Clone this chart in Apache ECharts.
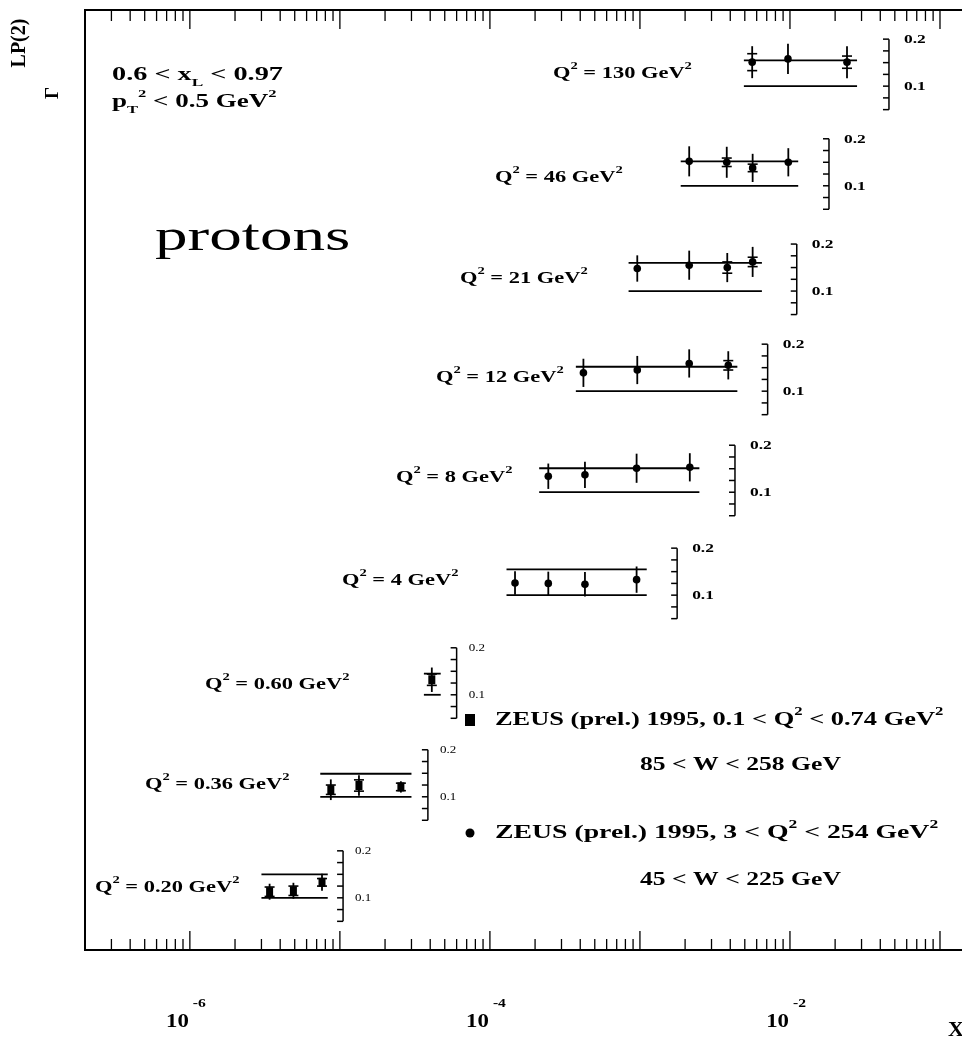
<!DOCTYPE html>
<html>
<head>
<meta charset="utf-8">
<script src="https://cdn.jsdelivr.net/npm/echarts@6/dist/echarts.min.js"></script>
<style>
html, body { margin: 0; padding: 0; background: #fff; overflow: hidden; }
#chart { width: 1040px; height: 1045px; }
</style>
</head>
<body>
<div id="chart"></div>
<script>
// ---- Γ^LP(2) for leading protons, one row per Q² bin (top to bottom) ----
const q2Bins = ['130', '46', '21', '12', '8', '4', '0.60', '0.36', '0.20'];

const xValues = [
  [5.6e-3, 9.7e-3, 2.4e-2],
  [2.13e-3, 3.79e-3, 5.64e-3, 9.75e-3],
  [9.6e-4, 2.13e-3, 3.82e-3, 5.64e-3],
  [4.2e-4, 9.6e-4, 2.13e-3, 3.88e-3],
  [2.45e-4, 4.3e-4, 9.5e-4, 2.15e-3],
  [1.47e-4, 2.45e-4, 4.3e-4, 9.5e-4],
  [4.1e-5],
  [8.7e-6, 1.34e-5, 2.55e-5],
  [3.4e-6, 4.9e-6, 7.6e-6]
];
const gammaValues = [
  [0.151, 0.158, 0.151],
  [0.152, 0.150, 0.138, 0.150],
  [0.148, 0.155, 0.150, 0.162],
  [0.139, 0.145, 0.159, 0.155],
  [0.134, 0.137, 0.151, 0.153],
  [0.126, 0.125, 0.123, 0.133],
  [0.132],
  [0.115, 0.124, 0.121],
  [0.113, 0.115, 0.133]
];
const totalErrors = [
  [0.034, 0.032, 0.034],
  [0.032, 0.033, 0.030, 0.030],
  [0.028, 0.031, 0.031, 0.032],
  [0.030, 0.030, 0.030, 0.030],
  [0.027, 0.028, 0.031, 0.030],
  [0.025, 0.025, 0.026, 0.028],
  [0.026],
  [0.022, 0.022, 0.012],
  [0.017, 0.017, 0.018]
];
const statErrors = [
  [0.018, 0, 0.013],
  [0, 0.009, 0.008, 0],
  [0, 0, 0.012, 0.010],
  [0, 0, 0, 0.010],
  [0, 0, 0, 0],
  [0, 0, 0, 0],
  [0.012],
  [0.010, 0.012, 0.008],
  [0.010, 0.010, 0.008]
];
// constant level per bin and its x range, plus the common reference level
const fitLevels = [0.155, 0.152, 0.160, 0.152, 0.151, 0.155, 0.145, 0.149, 0.150];
const fitFrom = [4.93e-3, 1.87e-3, 8.4e-4, 3.74e-4, 2.13e-4, 1.29e-4, 3.63e-5, 7.4e-6, 3.0e-6];
const fitTo = [2.8e-2, 1.135e-2, 6.5e-3, 4.46e-3, 2.49e-3, 1.11e-3, 4.7e-5, 3.0e-5, 8.3e-6];
const refLevel = 0.1;
// photoproduction-region bins (square markers) vs DIS bins (circles)
const lowQ2Sample = [false, false, false, false, false, false, true, true, true];

// per-bin Γ scale: ticks and labelled values
const scaleTicks = [0.05, 0.075, 0.1, 0.125, 0.15, 0.175, 0.2];
const scaleLabels = [0.1, 0.2];
// x axis decades with labels
const xLabelValues = [1e-6, 1e-4, 1e-2];
const xDecades = [-7, -6, -5, -4, -3, -2, -1];

// ---- layout: vertical shift of each bin and x position of its Γ scale ----
const panelShift = [1.738, 1.526, 1.302, 1.089, 0.874, 0.655, 0.443, 0.226, 0.011];
const scaleAt = [0.0457, 0.0182, 0.0111, 7.1e-3, 4.3e-3, 1.77e-3, 6.0e-5, 3.86e-5, 1.05e-5];
const q2LabelPos = [[553, 74], [495, 178], [460, 279], [436, 378], [396, 478], [342, 581], [205, 685], [145, 785], [95, 888]];

const SERIF = '"Liberation Serif", "DejaVu Serif", serif';

function toRich(s) {
  let out = '', last = 0, m;
  const re = /([\^_])\{([^}]*)\}/g;
  while ((m = re.exec(s))) {
    if (m.index > last) out += '{n|' + s.slice(last, m.index) + '}';
    out += '{' + (m[1] === '^' ? 'p' : 'b') + '|' + m[2] + '}';
    last = re.lastIndex;
  }
  if (last < s.length) out += '{n|' + s.slice(last) + '}';
  return out;
}
function richSet(fs, weight) {
  const small = Math.round(fs * 0.62);
  const base = { fontFamily: SERIF, fontWeight: weight, color: '#000' };
  return {
    n: Object.assign({}, base, { fontSize: fs, lineHeight: Math.round(fs * 1.5) }),
    p: Object.assign({}, base, { fontSize: small, lineHeight: small, verticalAlign: 'top' }),
    b: Object.assign({}, base, { fontSize: small, lineHeight: small, verticalAlign: 'bottom' })
  };
}
function label(x, y, s, fs, sx, opts) {
  opts = opts || {};
  return {
    type: 'text', x: x, y: y, scaleX: sx, silent: true,
    style: {
      text: toRich(s), rich: richSet(fs, opts.weight || 'bold'),
      align: opts.align || 'left', verticalAlign: 'middle', fill: '#000'
    }
  };
}
// hidden y axis that only carries a rotated title piece
function titleAxis(name, offset, gap, fs) {
  return {
    type: 'value', min: 0, max: 2, position: 'left', offset: offset,
    name: name, nameLocation: 'end', nameGap: gap, nameRotate: 90, nameMoveOverlap: false,
    nameTextStyle: { fontFamily: SERIF, fontWeight: 'bold', fontSize: fs, color: '#000', align: 'center', verticalAlign: 'middle' },
    axisLine: { show: false }, axisTick: { show: false }, axisLabel: { show: false }, splitLine: { show: false }
  };
}

// ---- series data built from the arrays above ----
const pointData = [];
xValues.forEach((xs, k) => xs.forEach((x, i) => {
  pointData.push([x, gammaValues[k][i], totalErrors[k][i], statErrors[k][i], k]);
}));
const levelData = fitLevels.map((lv, k) => [fitFrom[k], fitTo[k], lv, k]);
const scaleData = scaleAt.map((x, k) => [x, k]);
const tickData = [];
xDecades.forEach(d => {
  if (d > -7) tickData.push([Math.pow(10, d), 1]);
  for (let m = 2; m <= 9; m++) tickData.push([m * Math.pow(10, d), 0]);
});
const tickLabelData = xLabelValues.map(v => [v, 0]);

const BLACK = '#000';

const option = {
  animation: false,
  backgroundColor: '#fff',
  grid: { left: 85, top: 10, width: 930, height: 940, outerBoundsMode: 'none', containLabel: false,
    show: true, borderColor: BLACK, borderWidth: 2, backgroundColor: 'transparent' },
  xAxis: {
    type: 'log', logBase: 10, min: 2e-7, max: Math.pow(10, -0.5),
    axisLine: { show: false }, axisTick: { show: false }, axisLabel: { show: false }, splitLine: { show: false }
  },
  yAxis: [
    {
      type: 'value', min: 0, max: 2,
      axisLine: { show: false }, axisTick: { show: false }, axisLabel: { show: false }, splitLine: { show: false }
    },
    titleAxis('Γ', 32, -83, 19),
    titleAxis('LP(2)', 65, -33, 20)
  ],
  series: [
    {
      // decade and sub-decade ticks on the bottom and top frame
      type: 'custom', data: tickData, clip: false, silent: true,
      renderItem(params, api) {
        const cs = params.coordSys;
        const px = api.coord([api.value(0), 1])[0];
        const len = api.value(1) ? 19 : 11;
        const yb = cs.y + cs.height, yt = cs.y;
        return { type: 'group', children: [
          { type: 'line', shape: { x1: px, y1: yb, x2: px, y2: yb - len }, style: { stroke: BLACK, lineWidth: 1.3 } },
          { type: 'line', shape: { x1: px, y1: yt, x2: px, y2: yt + len }, style: { stroke: BLACK, lineWidth: 1.3 } }
        ] };
      }
    },
    {
      // 10^n labels under the frame
      type: 'custom', data: tickLabelData, clip: false, silent: true,
      renderItem(params, api) {
        const v = api.value(0);
        const px = api.coord([v, 1])[0];
        const exp = Math.round(Math.log10(v));
        return { type: 'group', children: [
          { type: 'text', x: px - 1, y: 1022, scaleX: 1.2,
            style: { text: '10', align: 'right', verticalAlign: 'middle', fontFamily: SERIF, fontWeight: 'bold', fontSize: 19, fill: BLACK } },
          { type: 'text', x: px + 3, y: 1004, scaleX: 1.2,
            style: { text: String(exp), align: 'left', verticalAlign: 'middle', fontFamily: SERIF, fontWeight: 'bold', fontSize: 13, fill: BLACK } }
        ] };
      }
    },
    {
      // constant level and reference line of each bin
      type: 'custom', data: levelData, clip: false, silent: true,
      encode: { x: [0, 1], y: 2 },
      renderItem(params, api) {
        const k = api.value(3), sh = panelShift[k];
        const a = api.coord([api.value(0), api.value(2) + sh]);
        const b = api.coord([api.value(1), api.value(2) + sh]);
        const c = api.coord([api.value(0), refLevel + sh]);
        const d = api.coord([api.value(1), refLevel + sh]);
        return { type: 'group', children: [
          { type: 'line', shape: { x1: a[0], y1: a[1], x2: b[0], y2: b[1] }, style: { stroke: BLACK, lineWidth: 1.8 } },
          { type: 'line', shape: { x1: c[0], y1: c[1], x2: d[0], y2: d[1] }, style: { stroke: BLACK, lineWidth: 1.8 } }
        ] };
      }
    },
    {
      // Γ scale drawn next to each bin
      type: 'custom', data: scaleData, clip: false, silent: true,
      renderItem(params, api) {
        const k = api.value(1), sh = panelShift[k];
        const x = api.value(0);
        const lo = api.coord([x, scaleTicks[0] + sh]);
        const hi = api.coord([x, scaleTicks[scaleTicks.length - 1] + sh]);
        const ch = [{ type: 'line', shape: { x1: lo[0], y1: lo[1], x2: hi[0], y2: hi[1] }, style: { stroke: BLACK, lineWidth: 1.5 } }];
        scaleTicks.forEach(t => {
          const p = api.coord([x, t + sh]);
          ch.push({ type: 'line', shape: { x1: p[0] - 6, y1: p[1], x2: p[0], y2: p[1] }, style: { stroke: BLACK, lineWidth: 1.5 } });
        });
        const small = lowQ2Sample[k];
        scaleLabels.forEach(t => {
          const p = api.coord([x, t + sh]);
          ch.push({ type: 'text', x: p[0] + (small ? 12 : 15), y: p[1] + 1, scaleX: small ? 1.3 : 1.45,
            style: { text: t.toFixed(1), align: 'left', verticalAlign: 'middle', fontFamily: SERIF,
              fontWeight: small ? 'normal' : 'bold', fontSize: small ? 10 : 12, fill: BLACK } });
        });
        return { type: 'group', children: ch };
      }
    },
    {
      // measurements with total error bars and statistical error ticks
      type: 'custom', data: pointData, clip: false, silent: true,
      encode: { x: 0, y: 1 },
      renderItem(params, api) {
        const x = api.value(0), g = api.value(1), e = api.value(2), s = api.value(3), k = api.value(4);
        const sh = panelShift[k];
        const c = api.coord([x, g + sh]);
        const t = api.coord([x, g + e + sh]);
        const b = api.coord([x, g - e + sh]);
        const ch = [{ type: 'line', shape: { x1: c[0], y1: t[1], x2: c[0], y2: b[1] }, style: { stroke: BLACK, lineWidth: 1.8 } }];
        if (s > 0) {
          [g + s, g - s].forEach(v => {
            const p = api.coord([x, v + sh]);
            ch.push({ type: 'line', shape: { x1: c[0] - 5, y1: p[1], x2: c[0] + 5, y2: p[1] }, style: { stroke: BLACK, lineWidth: 1.6 } });
          });
        }
        if (lowQ2Sample[k]) {
          ch.push({ type: 'rect', shape: { x: c[0] - 3.5, y: c[1] - 4.5, width: 7, height: 9 }, style: { fill: BLACK } });
        } else {
          ch.push({ type: 'circle', shape: { cx: c[0], cy: c[1], r: 3.8 }, style: { fill: BLACK } });
        }
        return { type: 'group', children: ch };
      }
    }
  ],
  graphic: [
    { type: 'text', x: 956, y: 1031, scaleX: 1.1, silent: true,
      style: { text: 'X', align: 'center', verticalAlign: 'middle', fontFamily: SERIF, fontWeight: 'bold', fontSize: 20, fill: BLACK } },
    // kinematic range
    label(112, 75, '0.6 < x_{L} < 0.97', 18, 1.57),
    label(112, 102, 'p_{T}^{2} < 0.5 GeV^{2}', 18, 1.5),
    { type: 'text', x: 155, y: 238, scaleX: 1.48, silent: true,
      style: { text: 'protons', align: 'left', verticalAlign: 'middle', fontFamily: SERIF, fontWeight: 'normal', fontSize: 44, fill: BLACK } },
    // legend
    { type: 'rect', shape: { x: 465, y: 714, width: 10, height: 12 }, style: { fill: BLACK }, silent: true },
    label(495, 720, 'ZEUS (prel.) 1995, 0.1 < Q^{2} < 0.74 GeV^{2}', 19, 1.39),
    label(640, 765, '85 < W < 258 GeV', 19, 1.35),
    { type: 'circle', shape: { cx: 470, cy: 833, r: 4.5 }, style: { fill: BLACK }, silent: true },
    label(495, 833, 'ZEUS (prel.) 1995, 3 < Q^{2} < 254 GeV^{2}', 19, 1.46),
    label(640, 880, '45 < W < 225 GeV', 19, 1.35)
  ].concat(q2Bins.map((q, k) => label(q2LabelPos[k][0], q2LabelPos[k][1], 'Q^{2} = ' + q + ' GeV^{2}', 17, 1.32)))
};

const chart = echarts.init(document.getElementById('chart'), null, { renderer: 'canvas' });
chart.setOption(option);
</script>
</body>
</html>
